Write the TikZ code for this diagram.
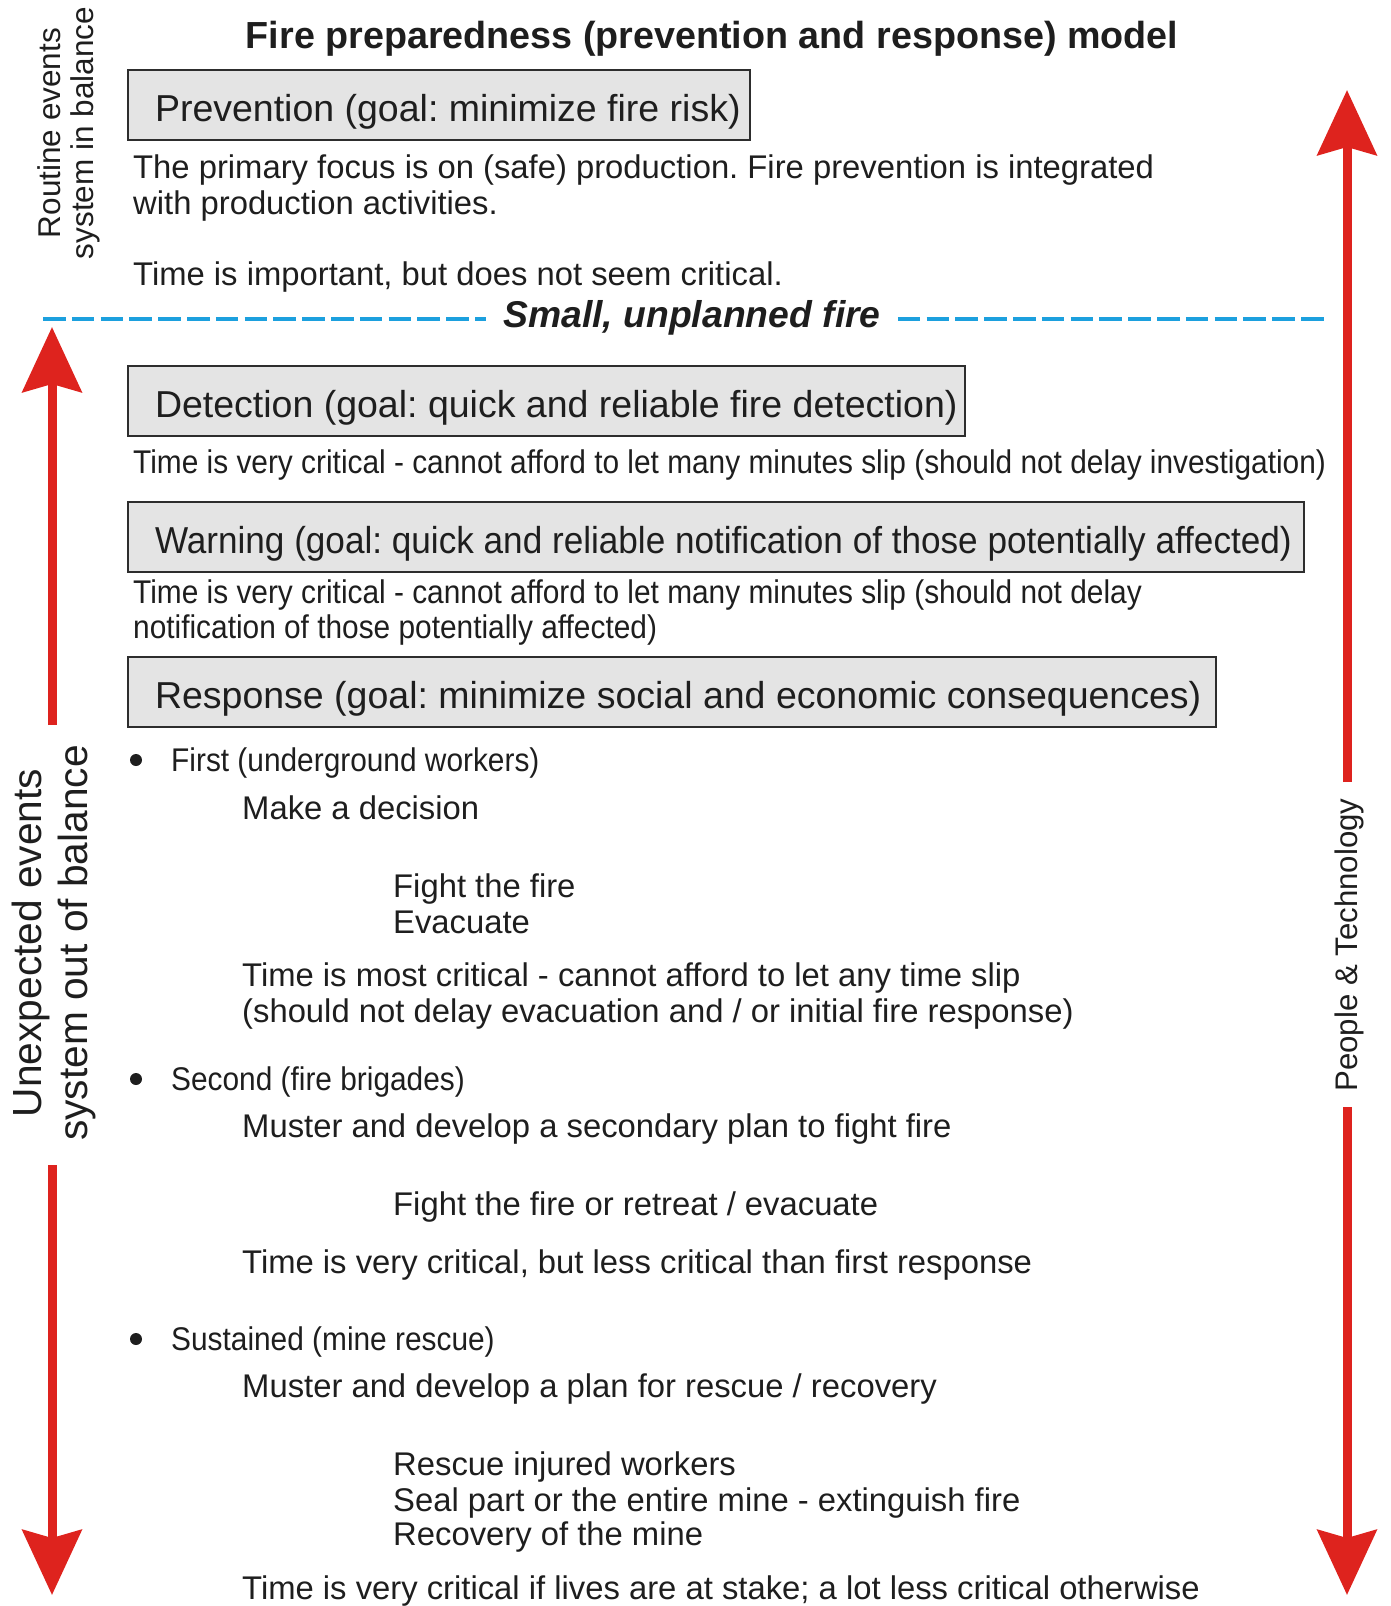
\documentclass[tikz,border=0pt]{standalone}
\usepackage{fontspec}
\setmainfont{Liberation Sans}
\newfontfamily\narrowfont[FakeStretch=0.91]{Liberation Sans}
\newfontfamily\warnfont[FakeStretch=0.937]{Liberation Sans}
\usetikzlibrary{arrows.meta}
\definecolor{txt}{RGB}{30,30,30}
\definecolor{boxfill}{RGB}{228,228,228}
\definecolor{boxline}{RGB}{45,45,45}
\definecolor{fireblue}{RGB}{28,160,222}
\definecolor{arrowred}{RGB}{222,35,30}
\begin{document}
\frenchspacing
\begin{tikzpicture}[x=1pt,y=-1pt,
  every node/.style={text=txt, inner sep=0pt},
  body/.style={anchor=mid west, font=\fontsize{32.8}{36}\selectfont},
  narrow/.style={anchor=mid west, font=\narrowfont\fontsize{32.8}{36}\selectfont},
  gbox/.style={draw=boxline, fill=boxfill, line width=2pt, anchor=north west, minimum height=70pt, text height=34pt, text depth=2pt, font=\fontsize{37.5}{40}\selectfont},
  redarrow/.style={draw=arrowred, line width=9pt, -{Stealth[length=65pt,width=59pt,inset=8pt]}},
  dashline/.style={draw=fireblue, line width=4.5pt, dash pattern=on 22.5pt off 6.3pt},
  bulletdot/.style={circle, fill=txt, minimum size=12pt}
]
\useasboundingbox (0,0) rectangle (1391,1606);

% title
\node[font=\bfseries\fontsize{37.7}{40}\selectfont, anchor=mid] (title) at (712,46) {Fire preparedness (prevention and response) model};

% side labels
\node[rotate=90, align=center, font=\fontsize{31.5}{33}\selectfont] (routine) at (69,133) {Routine events\\system in balance};
\node[rotate=90, align=center, font=\fontsize{40.7}{46}\selectfont] (unexp) at (54,943) {Unexpected events\\system out of balance};
\node[rotate=90, font=\fontsize{31.2}{34}\selectfont] (people) at (1349,945) {People \& Technology};

% red arrows
\coordinate (lt) at (52,327);
\coordinate (lg1) at (52,725);
\coordinate (lg2) at (52,1165);
\coordinate (lb) at (52,1595);
\draw[redarrow] (lg1) -- (lt);
\draw[redarrow] (lg2) -- (lb);
\coordinate (rt) at (1347,90);
\coordinate (rg1) at (1347,782);
\coordinate (rg2) at (1347,1107);
\coordinate (rb) at (1347,1595);
\draw[redarrow] (rg1) -- (rt);
\draw[redarrow] (rg2) -- (rb);

% prevention
\node[gbox] (prev) at (127,69) {\makebox[622pt][l]{\hspace{27pt}Prevention (goal: minimize fire risk)}};
\node[body] (p1) at (133,176) {The primary focus is on (safe) production. Fire prevention is integrated};
\node[body] (p2) at (133,212) {with production activities.};
\node[body] (p3) at (133,283) {Time is important, but does not seem critical.};

% small unplanned fire
\node[font=\bfseries\itshape\fontsize{37.3}{40}\selectfont, inner xsep=17pt] (fire) at (692,318) {Small, unplanned fire};
\coordinate (dl) at (43,319);
\coordinate (dr) at (1326,319);
\draw[dashline] (dl) -- (dl -| fire.west);
\draw[dashline] (dr -| fire.east) -- (dr);

% detection
\node[gbox] (det) at (127,365) {\makebox[837pt][l]{\hspace{27pt}Detection (goal: quick and reliable fire detection)}};
\node[narrow] (d1) at (133,471) {Time is very critical - cannot afford to let many minutes slip (should not delay investigation)};

% warning
\node[gbox] (warn) at (127,501) {\makebox[1176pt][l]{\hspace{27pt}\warnfont Warning (goal: quick and reliable notification of those potentially affected)}};
\node[narrow] (w1) at (133,601) {Time is very critical - cannot afford to let many minutes slip (should not delay};
\node[narrow] (w2) at (133,636) {notification of those potentially affected)};

% response
\node[gbox] (resp) at (127,656) {\makebox[1088pt][l]{\hspace{27pt}Response (goal: minimize social and economic consequences)}};

\node[bulletdot] (b1) at (136,760) {};
\node[narrow] (f0) at (171,769) {First (underground workers)};
\node[body] (f1) at (242,817) {Make a decision};
\node[body] (f2) at (393,895) {Fight the fire};
\node[body] (f3) at (393,931) {Evacuate};
\node[body] (f4) at (242,984) {Time is most critical - cannot afford to let any time slip};
\node[body] (f5) at (242,1020) {(should not delay evacuation and / or initial fire response)};

\node[bulletdot] (b2) at (136,1079) {};
\node[narrow] (s0) at (171,1088) {Second (fire brigades)};
\node[body] (s1) at (242,1135) {Muster and develop a secondary plan to fight fire};
\node[body] (s2) at (393,1213) {Fight the fire or retreat / evacuate};
\node[body] (s3) at (242,1271) {Time is very critical, but less critical than first response};

\node[bulletdot] (b3) at (136,1339) {};
\node[narrow] (u0) at (171,1348) {Sustained (mine rescue)};
\node[body] (u1) at (242,1395) {Muster and develop a plan for rescue / recovery};
\node[body] (u2) at (393,1473) {Rescue injured workers};
\node[body] (u3) at (393,1509) {Seal part or the entire mine - extinguish fire};
\node[body] (u4) at (393,1543) {Recovery of the mine};
\node[body] (u5) at (242,1597) {Time is very critical if lives are at stake; a lot less critical otherwise};
\end{tikzpicture}
\end{document}
